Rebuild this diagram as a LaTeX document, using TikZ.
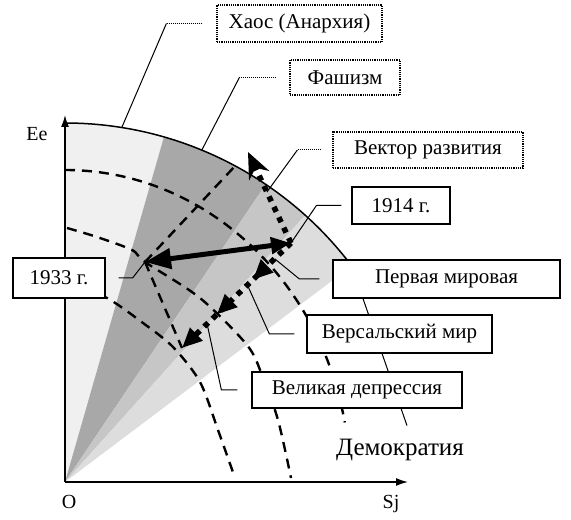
\documentclass[tikz,border=0pt]{standalone}
\usepackage{fontspec}
\setmainfont{Liberation Serif}
\usetikzlibrary{arrows.meta,decorations.markings,calc}

\begin{document}
\begin{tikzpicture}[x=1pt,y=1pt,
    box/.style={draw, fill=white, line width=1.2pt, inner sep=0pt,
      font=\fontsize{21}{25}\selectfont},
    dotbox/.style={box, densely dotted},
    lead/.style={line width=1pt},
    curve/.style={line width=2.4pt, dash pattern=on 10pt off 7pt},
    devpath/.style={line width=5.5pt, dash pattern=on 5.5pt off 6pt},
    axlabel/.style={font=\fontsize{20}{24}\selectfont}]
  \useasboundingbox (0,0) rectangle (571,520);

  % sectors around the origin
  \coordinate (O) at (65,38);
  \begin{scope}[shift={(O)}]
    \fill[gray!12] (0,0) -- (90:359) arc[start angle=90, end angle=74, radius=359] -- cycle;
    \fill[gray!68] (0,0) -- (74:359) arc[start angle=74, end angle=56, radius=359] -- cycle;
    \fill[gray!45] (0,0) -- (56:359) arc[start angle=56, end angle=48, radius=359] -- cycle;
    \fill[gray!27] (0,0) -- (48:359) arc[start angle=48, end angle=37, radius=359] -- cycle;
    \coordinate (arcend) at (37:359);
    \coordinate (chaosA) at (80.9:359);
    \coordinate (fascA) at (67.6:359);
    \coordinate (arcV) at (61.7:359);
  \end{scope}

  % axes
  \draw[line width=1.5pt, -{Latex[length=12pt,width=8pt]}] (O) -- (65,405);
  \draw[line width=1.5pt, -{Latex[length=12pt,width=8pt]}] (O) -- (408,38);
  \node[axlabel] (ee) at (37,386) {Ee};
  \node[axlabel] (orig) at (69,18) {O};
  \node[axlabel] (sj) at (391,16) {Sj};

  % points of the path
  \coordinate (p14) at (291,277);
  \coordinate (p33) at (145,258);
  \coordinate (pgd) at (182,172);
  \coordinate (pv) at (248,368);

  % dashed curves
  \draw[curve] (65,350) arc[start angle=90, end angle=11, x radius=285, y radius=312];
  \draw[curve] plot[smooth] coordinates {(67,292) (97,283) (132,270) (145,258)
    (200,222) (247,175) (262,145) (278,100) (291,42)};
  \draw[curve] plot[smooth] coordinates {(67,238) (107,222) (143,197) (173,173)
    (200,138) (218,90) (235,42)};
  \draw[curve] (p33) -- (pgd);
  \draw[curve] (p33) -- (arcV);

  % outer arc
  \draw[line width=1.5pt] ($(O)+(90:359)$) arc[start angle=90, end angle=37, radius=359];

  % development
  \draw[line width=5pt, {Triangle[length=26pt,width=20pt]}-{Triangle[length=20pt,width=16pt]}] (p33) -- (p14);
  \draw[devpath, -{Stealth[length=26pt,width=22pt]}] (p14) -- (pv);
  \draw[devpath, -{Triangle[length=20pt,width=17pt]},
    postaction={decorate}, decoration={markings,
      mark=at position 0.35 with {\arrow{Triangle[length=20pt,width=17pt]}},
      mark=at position 0.68 with {\arrow{Triangle[length=20pt,width=17pt]}}}]
    (p14) -- (pgd);

  \coordinate (vecP) at ($(p14)!0.56!(pv)$);
  \coordinate (warP) at ($(p14)!0.15!(pgd)$);
  \coordinate (versP) at ($(p14)!0.40!(pgd)$);
  \coordinate (deprP) at ($(p14)!0.77!(pgd)$);

  % labels
  \node[axlabel, font=\fontsize{25}{29}\selectfont] (demo) at (400,70) {Демократия};
  \draw[lead] ($(demo.north)+(7,10)$) -- (arcend);

  \node[dotbox, minimum width=165pt, minimum height=37pt] (chaos) at (299.5,496.5) {Хаос (Анархия)};
  \node[dotbox, minimum width=110pt, minimum height=35pt] (fasc) at (345,442.5) {Фашизм};
  \node[dotbox, minimum width=190pt, minimum height=36pt] (vector) at (428,370) {Вектор развития};
  \node[box, minimum width=98pt, minimum height=37pt] (y1914) at (401,314.5) {1914 г.};
  \node[box, minimum width=227pt, minimum height=38pt] (war) at (446.5,241) {Первая мировая};
  \node[box, minimum width=185pt, minimum height=38pt] (vers) at (399.5,186) {Версальский мир};
  \node[box, minimum width=210pt, minimum height=36pt] (depr) at (357,130) {Великая депрессия};
  \node[box, minimum width=92pt, minimum height=40pt] (y1933) at (59,242) {1933 г.};

  \draw[lead, densely dotted] ([xshift=-14pt]chaos.west) -- ++(-36,0) coordinate (chaosK);
  \draw[lead] (chaosK) -- (chaosA);
  \draw[lead, densely dotted] ([xshift=-13pt]fasc.west) -- ++(-37,0) coordinate (fascK);
  \draw[lead] (fascK) -- (fascA);
  \draw[lead, densely dotted] ([xshift=-11pt]vector.west) -- ++(-24,0) coordinate (vecK);
  \draw[lead] (vecK) -- (vecP);
  \draw[lead] ([xshift=-10pt]y1914.west) -- ++(-25,0) -- (p14);
  \draw[lead] ([xshift=-13pt]war.west) -- ++(-20,0) -- (warP);
  \draw[lead] ([xshift=-12pt]vers.west) -- ++(-25,0) -- (versP);
  \draw[lead] ([xshift=-14pt]depr.west) -- ++(-16,0) -- (deprP);
  \draw[lead] ([xshift=13pt]y1933.east) -- ++(14,0) -- (p33);
\end{tikzpicture}
\end{document}
